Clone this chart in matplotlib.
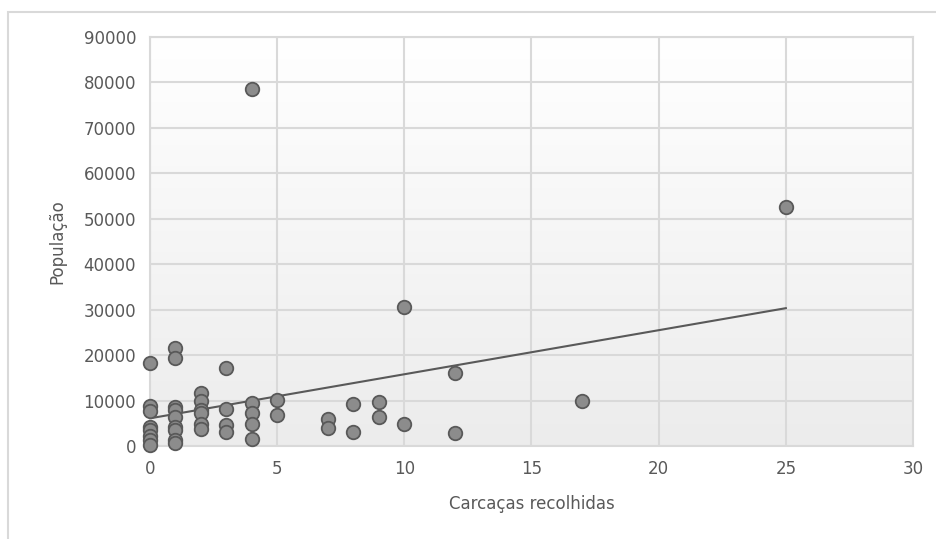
import matplotlib
matplotlib.use("Agg")
import matplotlib.pyplot as plt
from matplotlib.colors import LinearSegmentedColormap
from matplotlib.patches import Rectangle
import numpy as np

# carcacas recolhidas vs populacao
carcacas = [0, 0, 0, 0, 0, 0, 0, 0,
            1, 1, 1, 1, 1, 1, 1, 1, 1,
            2, 2, 2, 2, 2, 2,
            3, 3, 3, 3,
            4, 4, 4, 4, 4,
            5, 5,
            7, 7, 8, 8, 9, 9, 10, 10, 12, 12, 17, 25]
populacao = [18200, 8800, 7700, 4250, 3500, 2300, 1300, 300,
             21500, 19300, 8650, 7900, 6300, 4250, 3500, 1300, 600,
             11600, 9900, 7900, 7200, 4750, 3850,
             17100, 8050, 4600, 3150,
             78500, 9500, 7300, 4850, 1550,
             10100, 6800,
             5900, 3900, 9250, 3000, 9750, 6300, 30500, 4850, 16100, 2800, 9900, 52600]

x_ticks = [0, 5, 10, 15, 20, 25, 30]
y_ticks = [0, 10000, 20000, 30000, 40000, 50000, 60000, 70000, 80000, 90000]

txt = '#595959'
grid = '#d9d9d9'

fig = plt.figure(figsize=(9.37, 5.39), dpi=100)
# outer chart frame (runs off the right and bottom edges)
fig.patches.append(Rectangle((8/937, -0.1), 1.2, 1 - 12/539 + 0.1, transform=fig.transFigure,
                             fill=False, edgecolor=grid, linewidth=1.5))

ax = fig.add_axes([150/937, 1 - 446/539, 763/937, 409/539])

# plot area: white at top fading to light grey at bottom
grad = np.linspace(0, 1, 256).reshape(-1, 1)
cm = LinearSegmentedColormap.from_list('g', ['#ececec', '#ffffff'])
ax.imshow(grad, extent=[0, 30, 0, 90000], aspect='auto', cmap=cm,
          origin='lower', zorder=0)

ax.set_xlim(0, 30)
ax.set_ylim(0, 90000)
ax.set_xticks(x_ticks)
ax.set_yticks(y_ticks)
ax.grid(True, color=grid, linewidth=1.5, zorder=1)
for s in ax.spines.values():
    s.set_color(grid)
    s.set_linewidth(1.5)
ax.tick_params(length=0, colors=txt, labelsize=12, pad=10)

ax.scatter(carcacas, populacao, s=95, color='#8c8c8c', edgecolors='#595959',
           linewidths=1.3, zorder=3, clip_on=False)

# linear trendline over the data range
k, b = np.polyfit(carcacas, populacao, 1)
xs = np.array([min(carcacas), max(carcacas)])
ax.plot(xs, k * xs + b, color='#595959', linewidth=1.5, zorder=2)

ax.set_xlabel('Carcaças recolhidas', color=txt, fontsize=12, labelpad=12)
ax.set_ylabel('População', color=txt, fontsize=12, labelpad=12)

fig.savefig('out.png', dpi=100)
